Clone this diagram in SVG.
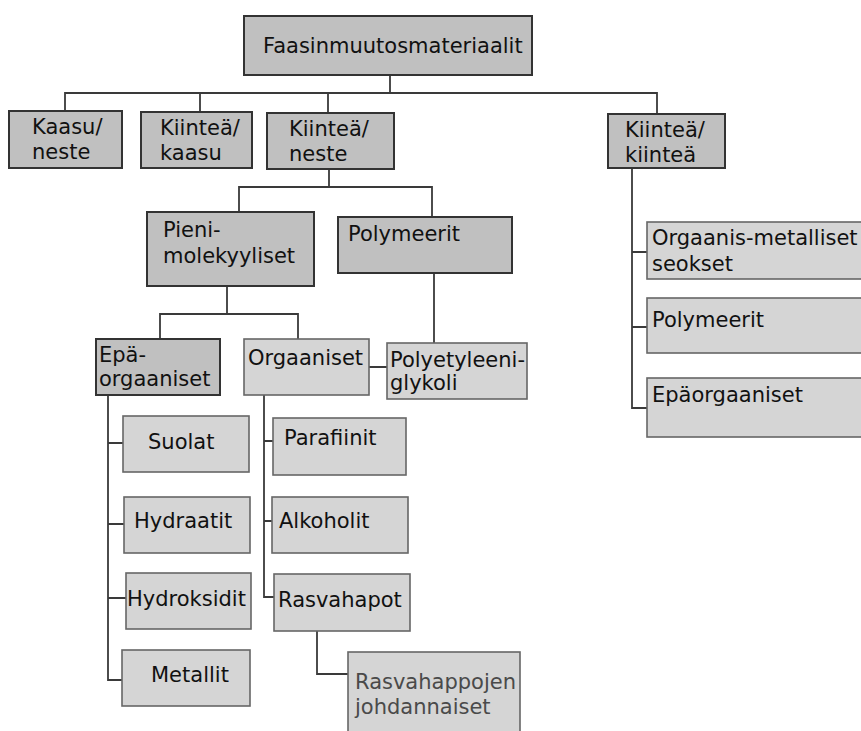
<svg xmlns="http://www.w3.org/2000/svg" width="861" height="731" viewBox="0 0 861 731">
<style>
text{font-family:"DejaVu Sans",Verdana,sans-serif;font-size:21px;fill:#111}
.d{fill:#c0c0c0;stroke:#333;stroke-width:2}
.l{fill:#d5d5d5;stroke:#666;stroke-width:1.6}
.c{fill:none;stroke:#3a3a3a;stroke-width:1.8}
.g{fill:#4a4a4a}
</style>
<rect width="861" height="731" fill="#fff"/>
<g id="connectors" class="c">
<path d="M390 75V93M65 110V93H657V114M200 93V112M328 93V113"/>
<path d="M329 169V187M239 212V187H432V217"/>
<path d="M227 286V314M160 339V314H298V339"/>
<path d="M369 367H387M434 273V343"/>
<path d="M632 168V408H647M632 252H647M632 327H647"/>
<path d="M108 395V680H122M108 443H123M108 524H124M108 598H126"/>
<path d="M264 395V597H274M264 441H273M264 521H272"/>
<path d="M317 631V674H348"/>
</g>
<g id="n-root"><rect class="d" x="244" y="16" width="288" height="59"/><text x="263" y="53">Faasinmuutosmateriaalit</text></g>
<g id="n-kaasuneste"><rect class="d" x="9" y="111" width="113" height="57"/><text x="32" y="134">Kaasu/</text><text x="32" y="159">neste</text></g>
<g id="n-kiinteakaasu"><rect class="d" x="141" y="112" width="111" height="56"/><text x="160" y="135">Kiinteä/</text><text x="160" y="160">kaasu</text></g>
<g id="n-kiinteaneste"><rect class="d" x="267" y="113" width="127" height="56"/><text x="289" y="136">Kiinteä/</text><text x="289" y="161">neste</text></g>
<g id="n-kiinteakiintea"><rect class="d" x="608" y="114" width="117" height="54"/><text x="625" y="137">Kiinteä/</text><text x="625" y="162">kiinteä</text></g>
<g id="n-pieni"><rect class="d" x="147" y="212" width="167" height="74"/><text x="163" y="237">Pieni-</text><text x="163" y="263">molekyyliset</text></g>
<g id="n-polymeerit"><rect class="d" x="338" y="217" width="174" height="56"/><text x="348" y="241">Polymeerit</text></g>
<g id="n-epaorg"><rect class="d" x="96" y="339" width="124" height="56"/><text x="99" y="362">Epä-</text><text x="99" y="386">orgaaniset</text></g>
<g id="n-orgaaniset"><rect class="l" x="244" y="339" width="125" height="56"/><text x="248" y="365">Orgaaniset</text></g>
<g id="n-peg"><rect class="l" x="387" y="343" width="140" height="56"/><text x="390" y="367">Polyetyleeni-</text><text x="390" y="390">glykoli</text></g>
<g id="n-orgmet"><rect class="l" x="647" y="222" width="216" height="57"/><text x="652" y="245">Orgaanis-metalliset</text><text x="652" y="271">seokset</text></g>
<g id="n-polym2"><rect class="l" x="647" y="298" width="216" height="55"/><text x="652" y="327">Polymeerit</text></g>
<g id="n-epaorg2"><rect class="l" x="647" y="378" width="216" height="59"/><text x="652" y="402">Epäorgaaniset</text></g>
<g id="n-suolat"><rect class="l" x="123" y="416" width="126" height="56"/><text x="148" y="449">Suolat</text></g>
<g id="n-hydraatit"><rect class="l" x="124" y="497" width="126" height="56"/><text x="134" y="528">Hydraatit</text></g>
<g id="n-hydroksidit"><rect class="l" x="126" y="573" width="125" height="56"/><text x="127" y="606">Hydroksidit</text></g>
<g id="n-metallit"><rect class="l" x="122" y="650" width="128" height="56"/><text x="151" y="682">Metallit</text></g>
<g id="n-parafiinit"><rect class="l" x="273" y="418" width="133" height="57"/><text x="284" y="445">Parafiinit</text></g>
<g id="n-alkoholit"><rect class="l" x="272" y="497" width="136" height="56"/><text x="279" y="528">Alkoholit</text></g>
<g id="n-rasvahapot"><rect class="l" x="274" y="574" width="136" height="57"/><text x="278" y="607">Rasvahapot</text></g>
<g id="n-rasvajohd"><rect class="l" x="348" y="652" width="172" height="90"/><text class="g" x="355" y="689">Rasvahappojen</text><text class="g" x="355" y="714">johdannaiset</text></g>
</svg>
